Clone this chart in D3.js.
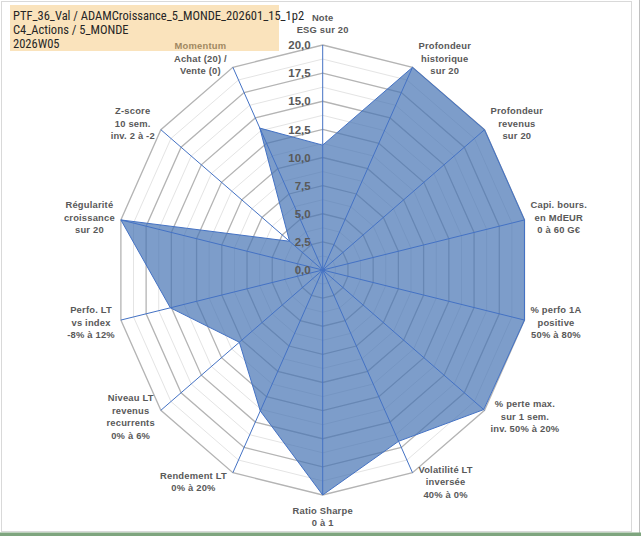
<!DOCTYPE html>
<html>
<head>
<meta charset="utf-8">
<script src="https://cdn.jsdelivr.net/npm/d3@7"></script>
<style>
  body { margin: 0; background: #fff; }
  svg { display: block; font-family: "Liberation Sans", Arial, sans-serif; }
</style>
</head>
<body>
<svg id="graph"></svg>
<script>
const titleLines = [
  "PTF_36_Val / ADAMCroissance_5_MONDE_202601_15_1p2",
  "C4_Actions / 5_MONDE",
  "2026W05"
];
const axisLabels = [
  ["Note", "ESG sur 20"],
  ["Profondeur", "historique", "sur 20"],
  ["Profondeur", "revenus", "sur 20"],
  ["Capi. bours.", "en MdEUR", "0 à 60 G€"],
  ["% perfo 1A", "positive", "50% à 80%"],
  ["% perte max.", "sur 1 sem.", "inv. 50% à 20%"],
  ["Volatilité LT", "inversée", "40% à 0%"],
  ["Ratio Sharpe", "0 à 1"],
  ["Rendement LT", "0% à 20%"],
  ["Niveau LT", "revenus", "recurrents", "0% à 6%"],
  ["Perfo. LT", "vs index", "-8% à 12%"],
  ["Régularité", "croissance", "sur 20"],
  ["Z-score", "10 sem.", "inv. 2 à -2"],
  ["Momentum", "Achat (20) /", "Vente (0)"]
];
const values = [11.1, 20, 20, 20, 20, 19.9, 16.9, 20, 13.9, 10.3, 15.1, 20, 4.1, 14.0];
const majorTicks = [0, 2.5, 5, 7.5, 10, 12.5, 15, 17.5, 20];
const minorTicks = [1.25, 3.75, 6.25, 8.75, 11.25, 13.75, 16.25, 18.75];

const width = 641, height = 536;
const cx = 322.7, cy = 270;
const svg = d3.select("#graph").attr("width", width).attr("height", height);

// plot area is a bit squeezed horizontally, like the original
const rX = d3.scaleLinear().domain([0, 20]).range([0, 207]);
const rY = d3.scaleLinear().domain([0, 20]).range([0, 225]);
const angle = d3.scaleLinear().domain([0, axisLabels.length]).range([0, 2 * Math.PI]);
const pt = (i, v) => [cx + rX(v) * Math.sin(angle(i)), cy - rY(v) * Math.cos(angle(i))];
const ring = (v) => d3.line()(d3.range(axisLabels.length).map((i) => pt(i, v))) + "Z";

// frame
svg.append("rect").attr("x", 1.5).attr("y", 1.5).attr("width", 630).attr("height", 530)
  .attr("fill", "#fff").attr("stroke", "#d9d9d9");
svg.append("line").attr("x1", 639.5).attr("x2", 639.5).attr("y1", 0).attr("y2", 536)
  .attr("stroke", "#bfbfbf");
svg.append("rect").attr("x", 0).attr("y", 532.5).attr("width", width).attr("height", 3.5)
  .attr("fill", "#7ea57e");

// grid
svg.append("g").selectAll("path").data(minorTicks).join("path")
  .attr("d", ring).attr("fill", "none").attr("stroke", "#e4e4e4").attr("stroke-width", 1);
svg.append("g").selectAll("path").data(majorTicks.filter((t) => t > 0)).join("path")
  .attr("d", ring).attr("fill", "none").attr("stroke", "#b4b4b4").attr("stroke-width", 1.3);

// series
svg.append("path")
  .attr("d", d3.line()(values.map((v, i) => pt(i, v))) + "Z")
  .attr("fill", "rgb(70,116,180)").attr("fill-opacity", 0.7)
  .attr("stroke", "#4472c4").attr("stroke-width", 1);

// spokes
svg.append("g").selectAll("line").data(axisLabels).join("line")
  .attr("x1", cx).attr("y1", cy)
  .attr("x2", (d, i) => pt(i, 20)[0]).attr("y2", (d, i) => pt(i, 20)[1])
  .attr("stroke", "#4472c4").attr("stroke-width", 1);

// tick labels
svg.append("g").selectAll("text").data(majorTicks).join("text")
  .attr("x", cx - 12).attr("y", (d) => cy - rY(d)).attr("dy", "0.36em")
  .attr("text-anchor", "end").attr("font-size", 11.5).attr("font-weight", "bold")
  .attr("fill", "#595959")
  .text((d) => d3.format(".1f")(d).replace(".", ","));

// axis labels
const lh = 12.5;
svg.append("g").selectAll("text").data(axisLabels).join("text")
  .attr("font-size", 9.4).attr("font-weight", "bold").attr("fill", "#595959")
  .attr("letter-spacing", 0.2).attr("text-anchor", "middle")
  .each(function (lines, i) {
    const t = d3.select(this);
    const spans = t.selectAll("tspan").data(lines).join("tspan").text((d) => d);
    const w = d3.max(spans.nodes(), (n) => n.getComputedTextLength());
    const h = lines.length * lh;
    const s = Math.sin(angle(i)), c = Math.cos(angle(i));
    const [px, py] = pt(i, 20);
    let x, y;
    if (Math.abs(s) < 1e-6) {
      x = px;
      y = py - c * (h / 2 + 9);
    } else {
      x = px + Math.sign(s) * (w / 2 + 6);
      y = py - c * 10;
    }
    spans.attr("x", x)
      .attr("y", (d, j) => y + (j - (lines.length - 1) / 2) * lh)
      .attr("dy", "0.35em");
  });

// title box
svg.append("rect").attr("x", 10).attr("y", 5).attr("width", 269).attr("height", 46)
  .attr("fill", "#f5c26b").attr("fill-opacity", 0.45);
svg.append("g").selectAll("text").data(titleLines).join("text")
  .attr("x", 13).attr("y", (d, i) => 15.7 + i * 13.8).attr("dy", "0.35em")
  .attr("font-family", "'Liberation Sans Narrow', 'Roboto Condensed', Arial, sans-serif")
  .attr("font-size", 12.5).attr("fill", "#262626")
  .text((d) => d);
</script>
</body>
</html>
